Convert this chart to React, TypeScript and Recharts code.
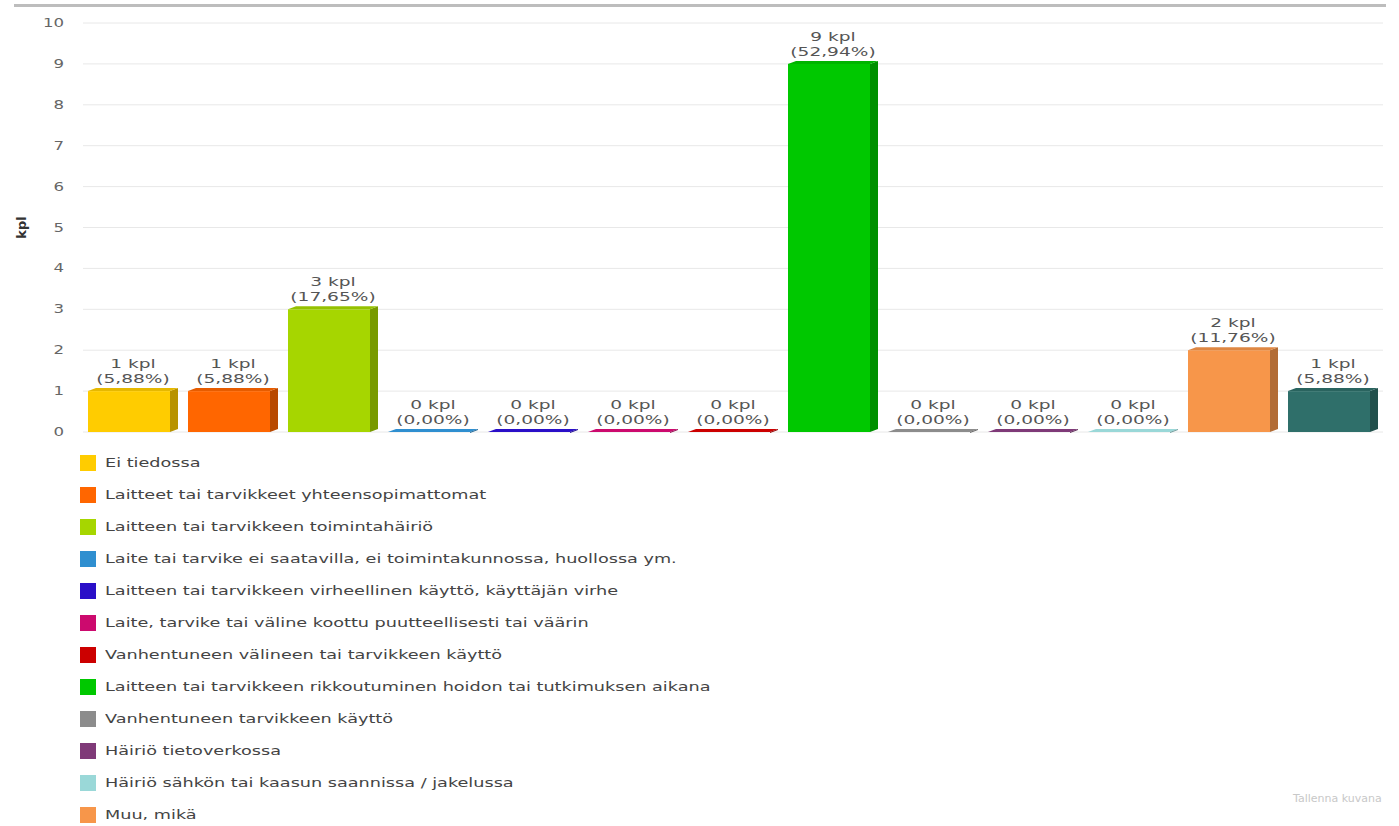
import React from "react";
import {
  Bar,
  BarChart,
  CartesianGrid,
  Cell,
  LabelList,
  XAxis,
  YAxis,
} from "recharts";

const categories = [
  "Ei tiedossa",
  "Laitteet tai tarvikkeet yhteensopimattomat",
  "Laitteen tai tarvikkeen toimintahäiriö",
  "Laite tai tarvike ei saatavilla, ei toimintakunnossa, huollossa ym.",
  "Laitteen tai tarvikkeen virheellinen käyttö, käyttäjän virhe",
  "Laite, tarvike tai väline koottu puutteellisesti tai väärin",
  "Vanhentuneen välineen tai tarvikkeen käyttö",
  "Laitteen tai tarvikkeen rikkoutuminen hoidon tai tutkimuksen aikana",
  "Vanhentuneen tarvikkeen käyttö",
  "Häiriö tietoverkossa",
  "Häiriö sähkön tai kaasun saannissa / jakelussa",
  "Muu, mikä",
  "Ei vastausta",
];

const counts = [1, 1, 3, 0, 0, 0, 0, 9, 0, 0, 0, 2, 1];

const colors = [
  "#ffcc00",
  "#ff6600",
  "#a6d600",
  "#2f8fd0",
  "#2a0fc8",
  "#cc0a6e",
  "#cc0000",
  "#00c800",
  "#8c8c8c",
  "#7f3a78",
  "#9ad8d8",
  "#f7964a",
  "#2f6f6a",
];

const yTicks = [0, 1, 2, 3, 4, 5, 6, 7, 8, 9, 10];

// only the first 12 legend rows fit in the visible area
const legendRows = 12;

const total = counts.reduce((a, b) => a + b, 0);
const data = categories.map((name, i) => ({ name, value: counts[i] }));

const FONT = "'DejaVu Sans', Verdana, sans-serif";

function darken(hex: string, k: number) {
  const n = parseInt(hex.slice(1), 16);
  const r = Math.round(((n >> 16) & 255) * k);
  const g = Math.round(((n >> 8) & 255) * k);
  const b = Math.round((n & 255) * k);
  return `rgb(${r},${g},${b})`;
}

function pct(v: number) {
  return ((v / total) * 100).toFixed(2).replace(".", ",");
}

function Bar3D(props: any) {
  const { x, y, width, height, fill } = props;
  const d = 8;
  const rise = 3;
  const side = darken(fill, 0.72);
  const top = darken(fill, 0.9);
  if (!height || height < 2) {
    const base = y + (height || 0);
    const h = 3;
    return (
      <g>
        <polygon
          points={`${x},${base} ${x + width - d},${base} ${x + width},${base - h} ${x + d},${base - h}`}
          fill={fill}
        />
        <polygon
          points={`${x + width - d},${base} ${x + width},${base - h} ${x + width},${base - h + 1} ${x + width - d},${base + 1}`}
          fill={side}
        />
      </g>
    );
  }
  return (
    <g>
      <rect x={x} y={y} width={width - d} height={height} fill={fill} />
      <polygon
        points={`${x + width - d},${y} ${x + width},${y - rise} ${x + width},${y + height - rise} ${x + width - d},${y + height}`}
        fill={side}
      />
      <polygon
        points={`${x},${y} ${x + d},${y - rise} ${x + width},${y - rise} ${x + width - d},${y}`}
        fill={top}
      />
    </g>
  );
}

function StretchText({ x, y, children, size = 12, color = "#555", anchor = "middle", stretch = 1.5 }: any) {
  return (
    <text
      transform={`translate(${x},${y}) scale(${stretch},1)`}
      x={0}
      y={0}
      textAnchor={anchor}
      fontFamily={FONT}
      fontSize={size}
      fill={color}
    >
      {children}
    </text>
  );
}

function BarLabel(props: any) {
  const { x, y, width, value } = props;
  const cx = x + width / 2;
  const top = y - 2;
  return (
    <g>
      <StretchText x={cx} y={top - 21} stretch={1.55}>{`${value} kpl`}</StretchText>
      <StretchText x={cx} y={top - 6} stretch={1.55}>{`(${pct(value)}%)`}</StretchText>
    </g>
  );
}

function YTick(props: any) {
  const { y, payload } = props;
  return (
    <StretchText x={64} y={y + 4} anchor="end" color="#666" stretch={1.38}>
      {payload.value}
    </StretchText>
  );
}

export default function App() {
  return (
    <div
      style={{
        position: "absolute",
        left: 0,
        top: 0,
        width: 1399,
        height: 826,
        overflow: "hidden",
        background: "#fff",
        fontFamily: FONT,
      }}
    >
      <div
        style={{
          position: "absolute",
          left: 14,
          top: 4,
          width: 1372,
          height: 3,
          background: "#bdbdbd",
        }}
      />
      <div style={{ position: "absolute", left: 0, top: 0 }}>
        <BarChart
          width={1399}
          height={440}
          data={data}
          margin={{ top: 23, right: 16, left: 3, bottom: 8 }}
        >
          <CartesianGrid stroke="#e8e8e8" vertical={false} />
          <XAxis dataKey="name" hide />
          <YAxis
            width={80}
            domain={[0, 10]}
            ticks={yTicks}
            interval={0}
            axisLine={false}
            tickLine={false}
            tick={<YTick />}
            label={{
              content: ({ viewBox }: any) => (
                <text
                  x={26}
                  y={viewBox.y + viewBox.height / 2}
                  transform={`rotate(-90 26 ${viewBox.y + viewBox.height / 2})`}
                  textAnchor="middle"
                  fontFamily={FONT}
                  fontSize={13}
                  fontWeight="bold"
                  fill="#333"
                >
                  kpl
                </text>
              ),
            }}
          />
          <Bar dataKey="value" barSize={90} shape={<Bar3D />} isAnimationActive={false}>
            {data.map((_, i) => (
              <Cell key={i} fill={colors[i]} />
            ))}
            <LabelList dataKey="value" content={<BarLabel />} />
          </Bar>
        </BarChart>
      </div>
      {categories.slice(0, legendRows).map((name, i) => (
        <div
          key={name}
          style={{
            position: "absolute",
            left: 80,
            top: 455 + i * 32,
            height: 16,
            display: "flex",
            alignItems: "center",
            whiteSpace: "nowrap",
          }}
        >
          <div style={{ width: 16, height: 16, background: colors[i] }} />
          <span
            style={{
              display: "inline-block",
              marginLeft: 9,
              fontSize: 12,
              color: "#444",
              transform: "scaleX(1.47)",
              transformOrigin: "left center",
            }}
          >
            {name}
          </span>
        </div>
      ))}
      <div
        style={{
          position: "absolute",
          left: 1293,
          top: 793,
          fontSize: 10,
          color: "#c8c8c8",
          whiteSpace: "nowrap",
          transform: "scaleX(1.1)",
          transformOrigin: "left center",
        }}
      >
        Tallenna kuvana
      </div>
    </div>
  );
}
